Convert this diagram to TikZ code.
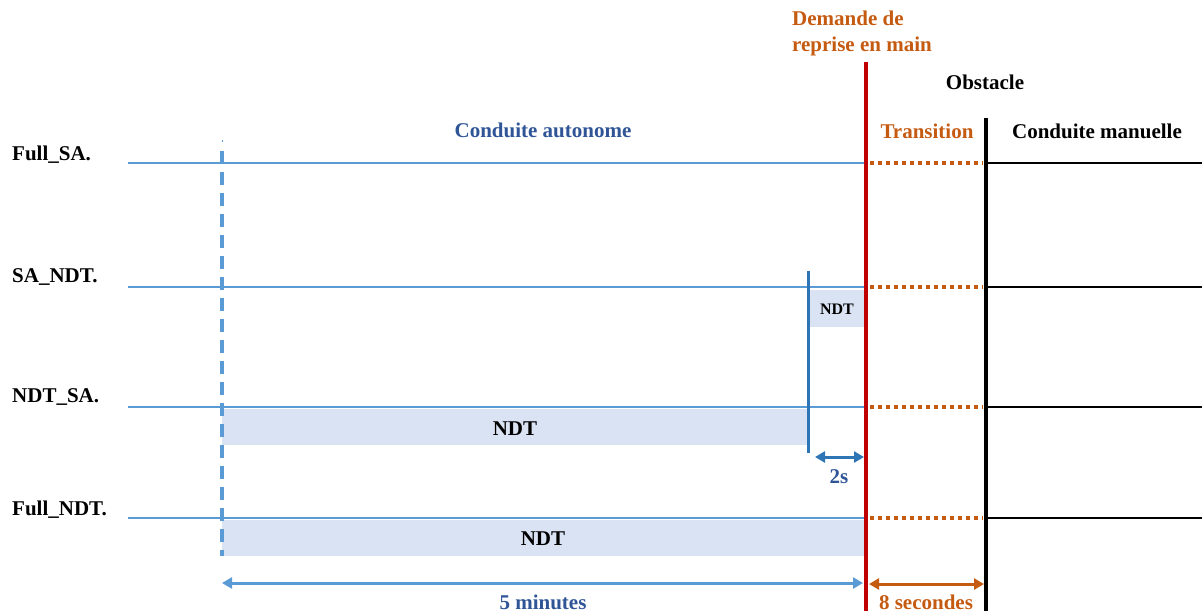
\documentclass[tikz,border=0pt]{standalone}
\usepackage{fontspec}
\setmainfont{Liberation Serif}
\usetikzlibrary{arrows.meta}
\definecolor{lblue}{HTML}{5B9BD5}
\definecolor{mblue}{HTML}{2E75B6}
\definecolor{dblue}{HTML}{2F5597}
\definecolor{ndtfill}{HTML}{DAE3F3}
\definecolor{dred}{HTML}{C00000}
\definecolor{orng}{HTML}{C55A11}
\tikzset{
  lbl/.style={font=\fontsize{21}{25}\selectfont\bfseries, inner sep=0pt},
  rowlbl/.style={lbl, anchor=base west},
  tline/.style={lblue, line width=2.2pt},
  trans/.style={orng, line width=3.2pt, dash pattern=on 3.5pt off 4.5pt},
  manual/.style={black, line width=2.2pt},
  ndtbox/.style={fill=ndtfill, draw=none},
  dim/.style={{Triangle[length=10pt,width=11pt]}-{Triangle[length=10pt,width=11pt]}, line width=3pt},
}
\begin{document}
\begin{tikzpicture}[x=1pt,y=-1pt]
\useasboundingbox (0,0) rectangle (1202,611);
% NDT boxes
\fill[ndtbox] (810,290) rectangle (864,327);
\node[lbl, font=\fontsize{16}{19}\selectfont\bfseries] (ndt1) at (837,309) {NDT};
\fill[ndtbox] (222,409) rectangle (808,445);
\node[lbl] (ndt2) at (515,429) {NDT};
\fill[ndtbox] (222,520) rectangle (866,556);
\node[lbl] (ndt3) at (543,539) {NDT};
% coordinates
\foreach \n/\y in {a/163,b/287,c/407,d/518}{
  \coordinate (\n0) at (128,\y);
  \coordinate (\n1) at (866,\y);
  \coordinate (\n2) at (986,\y);
  \coordinate (\n3) at (1202,\y);
  \draw[tline] (\n0) -- (\n1);
  \draw[trans] (870,\y) -- (983,\y);
  \draw[manual] (\n2) -- (\n3);
}
% row labels
\node[rowlbl] (l1) at (12,160) {Full\_SA.};
\node[rowlbl] (l2) at (12,282) {SA\_NDT.};
\node[rowlbl] (l3) at (12,402) {NDT\_SA.};
\node[rowlbl] (l4) at (12,515) {Full\_NDT.};
% vertical lines
\coordinate (dtop) at (222,151);
\coordinate (dbot) at (222,556);
\draw[lblue, line width=0.8pt] (222,140) -- (222,142);
\draw[lblue, line width=3.4pt, dash pattern=on 13pt off 8pt] (dtop) -- (dbot);
\coordinate (btop) at (808,271);
\coordinate (bbot) at (808,453);
\draw[mblue, line width=3pt] (btop) -- (bbot);
\coordinate (rtop) at (866,62);
\coordinate (rbot) at (866,611);
\draw[dred, line width=4pt] (rtop) -- (rbot);
\coordinate (ktop) at (986,118);
\coordinate (kbot) at (986,611);
\draw[black, line width=4pt] (ktop) -- (kbot);
% dimension arrows
\coordinate (s2a) at (815,457);
\coordinate (s2b) at (864,457);
\draw[dim, mblue] (s2a) -- (s2b);
\node[lbl, text=dblue] (s2) at (839,477) {2s};
\coordinate (m5a) at (222,583);
\coordinate (m5b) at (863,583);
\draw[dim, lblue] (m5a) -- (m5b);
\node[lbl, text=dblue] (m5) at (543,602) {5 minutes};
\coordinate (s8a) at (869,584);
\coordinate (s8b) at (984,584);
\draw[dim, orng] (s8a) -- (s8b);
\node[lbl, text=orng] (s8) at (926,602) {8 secondes};
% headings
\node[lbl, text=dblue] (ca) at (543,130) {Conduite autonome};
\node[lbl, text=orng] (tr) at (927,131) {Transition};
\node[lbl] (cm) at (1097,131) {Conduite manuelle};
\node[lbl] (ob) at (985,82) {Obstacle};
\node[lbl, text=orng, align=left, font=\fontsize{21}{26}\selectfont\bfseries] (dm) at (862,33) {Demande de\\reprise en main};
\end{tikzpicture}
\end{document}
